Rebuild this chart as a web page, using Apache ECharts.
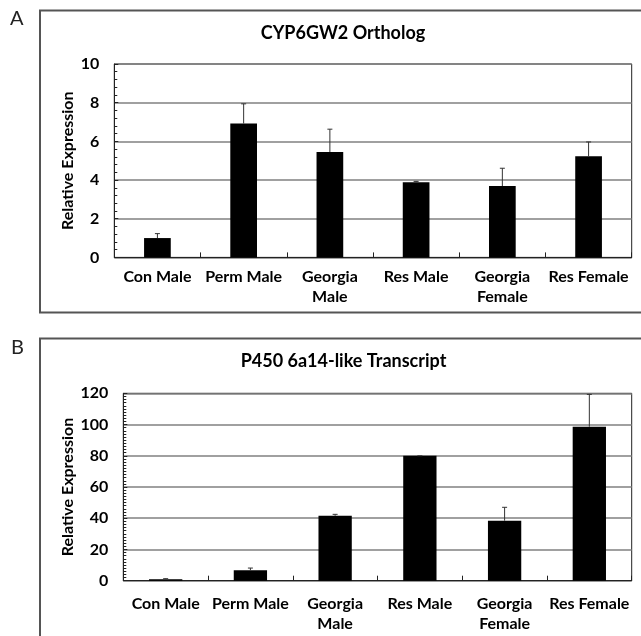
<!DOCTYPE html>
<html>
<head>
<meta charset="utf-8">
<script src="https://cdn.jsdelivr.net/npm/echarts@6/dist/echarts.min.js"></script>
<style>
html,body{margin:0;padding:0;background:#fff;}
#c{width:641px;height:636px;}
</style>
</head>
<body>
<div id="c"></div>
<script>
const categories = ['Con Male', 'Perm Male', 'Georgia\nMale', 'Res Male', 'Georgia\nFemale', 'Res Female'];
const titleA = 'CYP6GW2 Ortholog';
const titleB = 'P450 6a14-like Transcript';
const valuesA = [1.0, 6.92, 5.45, 3.88, 3.69, 5.23];
const errorsA = [0.23, 1.02, 1.18, 0.05, 0.92, 0.74];
const valuesB = [1.0, 6.7, 41.6, 80.0, 38.4, 98.6];
const errorsB = [0.3, 1.4, 0.9, 0.0, 8.6, 20.7];
const ticksA = {min: 0, max: 10, interval: 2};
const ticksB = {min: 0, max: 120, interval: 20};

const FONT = 'Lato';

function errData(vals, errs) {
  return vals.map((v, i) => [i, v, v + errs[i]]);
}

function errRender(params, api) {
  const x = api.value(0);
  const lo = api.coord([x, api.value(1)]);
  const hi = api.coord([x, api.value(2)]);
  const half = 2.5;
  return {
    type: 'group',
    children: [
      {type: 'line', shape: {x1: lo[0], y1: lo[1], x2: hi[0], y2: hi[1]}, style: {stroke: '#333', lineWidth: 1}},
      {type: 'line', shape: {x1: hi[0] - half, y1: hi[1], x2: hi[0] + half, y2: hi[1]}, style: {stroke: '#333', lineWidth: 1}}
    ]
  };
}

function xAxisCfg(gi, margin) {
  return {
    type: 'category', gridIndex: gi, data: categories,
    axisLine: {show: true, lineStyle: {color: '#222', width: 1}},
    axisTick: {show: true, inside: true, length: 5, interval: 0, lineStyle: {color: '#222'}},
    axisLabel: {interval: 0, margin: margin, color: '#000', fontFamily: FONT, fontWeight: 'bold', fontSize: 16, lineHeight: 20},
    splitLine: {show: false}
  };
}

function yAxisCfg(gi, t, minorSplit, nameGap) {
  return {
    type: 'value', gridIndex: gi, min: t.min, max: t.max, interval: t.interval,
    name: 'Relative Expression', nameLocation: 'middle', nameGap: nameGap, nameRotate: 90,
    nameMoveOverlap: false,
    nameTextStyle: {fontFamily: FONT, fontWeight: 'bold', fontSize: 16, color: '#000'},
    axisLine: {show: true, lineStyle: {color: '#222', width: 1}},
    axisTick: {show: true, inside: true, length: 4, lineStyle: {color: '#222'}},
    minorTick: {show: true, splitNumber: minorSplit, length: 3, lineStyle: {color: '#222'}},
    axisLabel: {margin: 15, color: '#000', fontFamily: FONT, fontWeight: 'bold', fontSize: 16},
    splitLine: {show: true, lineStyle: {color: '#808080', width: 1.5}}
  };
}

const chart = echarts.init(document.getElementById('c'), null, {renderer: 'canvas'});
chart.setOption({
  backgroundColor: '#fff',
  animation: false,
  grid: [
    {left: 114.3, top: 64, right: 9.3, height: 193.4, show: true, borderColor: '#222', borderWidth: 1, backgroundColor: 'transparent'},
    {left: 123.3, top: 393.3, right: 9.3, height: 187.4, show: true, borderColor: '#222', borderWidth: 1, backgroundColor: 'transparent'}
  ],
  xAxis: [xAxisCfg(0, 9), xAxisCfg(1, 13)],
  yAxis: [yAxisCfg(0, ticksA, 5, 38), yAxisCfg(1, ticksB, 10, 47)],
  graphic: [
    {type: 'rect', shape: {x: 40, y: 10.5, width: 640, height: 302}, style: {fill: 'none', stroke: '#555', lineWidth: 2}, z: 0},
    {type: 'rect', shape: {x: 40, y: 338.5, width: 640, height: 330}, style: {fill: 'none', stroke: '#555', lineWidth: 2}, z: 0},
    {type: 'text', x: 10, y: 9, style: {text: 'A', font: '20px ' + FONT, fill: '#222'}},
    {type: 'text', x: 11, y: 338, style: {text: 'B', font: '20px ' + FONT, fill: '#222'}},
    {type: 'text', x: 343, y: 33.5, style: {text: titleA, font: 'bold 18px ' + FONT, fill: '#000', textAlign: 'center', textVerticalAlign: 'middle'}},
    {type: 'text', x: 343.5, y: 361.5, style: {text: titleB, font: 'bold 18px ' + FONT, fill: '#000', textAlign: 'center', textVerticalAlign: 'middle'}}
  ],
  series: [
    {type: 'bar', xAxisIndex: 0, yAxisIndex: 0, data: valuesA, barWidth: 26.7, itemStyle: {color: '#000'}, z: 3},
    {type: 'custom', xAxisIndex: 0, yAxisIndex: 0, data: errData(valuesA, errorsA), renderItem: errRender, z: 4},
    {type: 'bar', xAxisIndex: 1, yAxisIndex: 1, data: valuesB, barWidth: 33.3, itemStyle: {color: '#000'}, z: 3},
    {type: 'custom', xAxisIndex: 1, yAxisIndex: 1, data: errData(valuesB, errorsB), renderItem: errRender, z: 4}
  ]
});
</script>
</body>
</html>
